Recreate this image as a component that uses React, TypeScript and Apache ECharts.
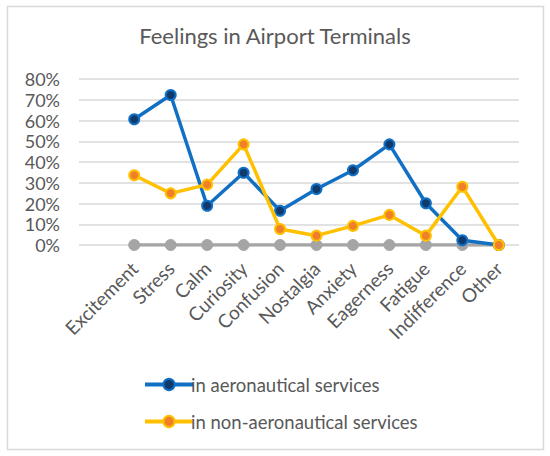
import { useEffect, useRef } from 'react';
import * as echarts from 'echarts';

const categories = [
  'Excitement', 'Stress', 'Calm', 'Curiosity', 'Confusion', 'Nostalgia',
  'Anxiety', 'Eagerness', 'Fatigue', 'Indifference', 'Other',
];
const aeronautical = [60.6, 72.3, 18.9, 34.8, 16.5, 27.0, 36.0, 48.5, 20.1, 2.3, 0];
const nonAeronautical = [33.6, 24.9, 29.1, 48.5, 7.7, 4.5, 9.2, 14.5, 4.5, 28.1, 0];
const baseline = [0, 0, 0, 0, 0, 0, 0, 0, 0, 0, 0];
const yTicks = [0, 10, 20, 30, 40, 50, 60, 70, 80];

const textColor = '#595959';
const font = 'Lato, "Open Sans", sans-serif';

export default function App() {
  const chartRef = useRef<HTMLDivElement>(null);

  useEffect(() => {
    if (!chartRef.current) return;
    const chart = echarts.init(chartRef.current, null, { renderer: 'svg' });

    const option: echarts.EChartsOption = {
      animation: false,
      backgroundColor: '#ffffff',
      textStyle: { fontFamily: font },
      title: {
        text: 'Feelings in Airport Terminals',
        left: 'center',
        top: 19,
        textStyle: { color: textColor, fontSize: 22, fontWeight: 'normal', fontFamily: font },
      },
      graphic: [
        {
          type: 'rect',
          shape: { x: 7.5, y: 6.5, width: 536, height: 443 },
          style: { fill: 'none', stroke: '#d9d9d9', lineWidth: 1.5 },
          silent: true,
        },
      ],
      legend: {
        data: ['in aeronautical services', 'in non-aeronautical services'],
        orient: 'vertical',
        left: 138,
        top: 370,
        itemWidth: 48,
        itemHeight: 14,
        itemGap: 18,
        lineStyle: { width: 4 },
        textStyle: { color: textColor, fontSize: 18.5, fontFamily: font, padding: [0, 0, 0, -7] },
      },
      grid: [
        { left: 79, right: 31, top: 79, bottom: 211 },
        { left: 116, right: 33, top: 79, bottom: 211 },
      ],
      xAxis: [
        { type: 'category', gridIndex: 0, data: [], show: false },
        {
          type: 'category',
          gridIndex: 1,
          data: categories,
          boundaryGap: true,
          axisLine: { show: false },
          axisTick: { show: false },
          axisLabel: {
            rotate: 45,
            interval: 0,
            margin: 20,
            color: textColor,
            fontSize: 19,
            fontFamily: font,
          },
        },
      ],
      yAxis: [
        {
          type: 'value',
          gridIndex: 0,
          min: yTicks[0],
          max: yTicks[yTicks.length - 1],
          interval: 10,
          axisLine: { show: false },
          axisTick: { show: false },
          axisLabel: {
            formatter: '{value}%',
            color: textColor,
            fontSize: 18,
            fontFamily: font,
            margin: 19,
          },
          splitLine: { lineStyle: { color: '#d9d9d9', width: 1.5 } },
        },
        {
          type: 'value',
          gridIndex: 1,
          min: yTicks[0],
          max: yTicks[yTicks.length - 1],
          interval: 10,
          show: false,
          splitLine: { show: false },
        },
      ],
      series: [
        {
          name: 'baseline',
          type: 'line',
          xAxisIndex: 1,
          yAxisIndex: 1,
          data: baseline,
          symbol: 'circle',
          symbolSize: 11,
          lineStyle: { color: '#a5a5a5', width: 3.5 },
          itemStyle: { color: '#a5a5a5', borderColor: '#a5a5a5', borderWidth: 1 },
          z: 1,
        },
        {
          name: 'in aeronautical services',
          type: 'line',
          xAxisIndex: 1,
          yAxisIndex: 1,
          data: aeronautical,
          symbol: 'circle',
          symbolSize: 10,
          lineStyle: { color: '#1170c4', width: 3.5 },
          itemStyle: { color: '#0f3a6b', borderColor: '#1170c4', borderWidth: 2 },
          z: 2,
        },
        {
          name: 'in non-aeronautical services',
          type: 'line',
          xAxisIndex: 1,
          yAxisIndex: 1,
          data: nonAeronautical,
          symbol: 'circle',
          symbolSize: 10,
          lineStyle: { color: '#ffc000', width: 3.5 },
          itemStyle: { color: '#f07f2a', borderColor: '#ffc000', borderWidth: 2 },
          z: 3,
        },
      ],
    };

    chart.setOption(option);
    return () => chart.dispose();
  }, []);

  return (
    <div
      ref={chartRef}
      style={{ position: 'fixed', left: 0, top: 0, width: '550px', height: '456px' }}
    />
  );
}
